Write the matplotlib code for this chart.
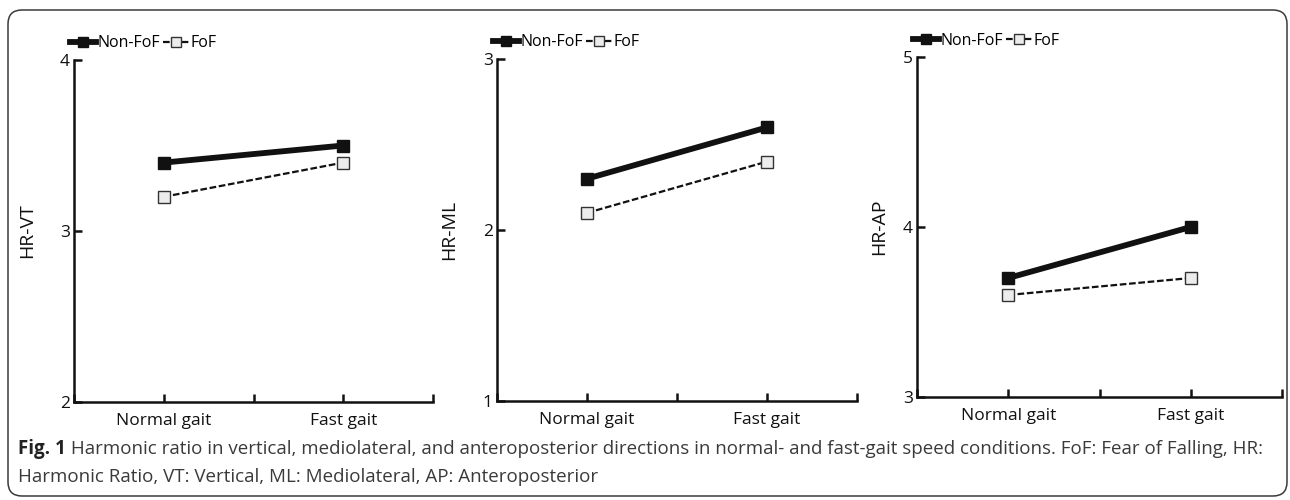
import matplotlib
matplotlib.use('agg')
import matplotlib.pyplot as plt
from matplotlib.patches import FancyBboxPatch

plt.rcParams['font.family'] = ['Open Sans', 'DejaVu Sans']

conditions = ['Normal gait', 'Fast gait']
panel_ylabels = ['HR-VT', 'HR-ML', 'HR-AP']
panel_ylims = [(2, 4), (1, 3), (3, 5)]
panel_yticks = [[2, 3, 4], [1, 2, 3], [3, 4, 5]]
non_fof = [[3.4, 3.5], [2.3, 2.6], [3.7, 4.0]]
fof = [[3.2, 3.4], [2.1, 2.4], [3.6, 3.7]]

caption_bold = 'Fig. 1'
caption_1 = (' Harmonic ratio in vertical, mediolateral, and anteroposterior directions in '
             'normal- and fast-gait speed conditions. FoF: Fear of Falling, HR:')
caption_2 = 'Harmonic Ratio, VT: Vertical, ML: Mediolateral, AP: Anteroposterior'

W, H = 1290, 500
fig = plt.figure(figsize=(W / 100, H / 100), dpi=100)

# frame around everything, drawn in pixel coords
bg = fig.add_axes([0, 0, 1, 1])
bg.set_xlim(0, W)
bg.set_ylim(H, 0)
bg.axis('off')
bg.add_patch(FancyBboxPatch((8, 10), 1279, 486, boxstyle='round,pad=0,rounding_size=14',
                            fill=False, edgecolor='#3a3a3a', linewidth=1.1))

# axes boxes in pixels: left, right, top, bottom
boxes = [(74, 433, 60, 402), (497, 857, 59, 401), (917, 1282, 57, 397)]
ylabel_x = [36, 458, 888]

for i, (l, r, t, b) in enumerate(boxes):
  ax = fig.add_axes([l / W, 1 - b / H, (r - l) / W, (b - t) / H])
  ax.set_facecolor('none')
  xs = [1, 3]
  ax.plot(xs, non_fof[i], color='#111111', linewidth=4.2, marker='s', markersize=8.5,
          markerfacecolor='#111111', markeredgecolor='#111111', label='Non-FoF', clip_on=False)
  ax.plot(xs, fof[i], color='#111111', linewidth=1.6, linestyle=(0, (3, 1.2)), marker='s',
          markersize=8.5, markerfacecolor='#ececec', markeredgecolor='#333333',
          markeredgewidth=1.0, label='FoF', clip_on=False)
  ax.set_xlim(0, 4)
  ax.set_ylim(*panel_ylims[i])
  ax.set_xticks([0, 1, 2, 3, 4])
  ax.set_xticklabels(['', conditions[0], '', conditions[1], ''])
  ax.set_yticks(panel_yticks[i])
  ax.tick_params(axis='both', direction='in', length=6, width=1.8, labelsize=12.5,
                 colors='#111111', pad=4)
  ax.tick_params(axis='x', pad=8)
  ax.tick_params(axis='y', pad=3)
  for s in ['top', 'right']:
    ax.spines[s].set_visible(False)
  for s in ['left', 'bottom']:
    ax.spines[s].set_linewidth(1.8)
    ax.spines[s].set_color('#111111')
  ax.set_ylabel(panel_ylabels[i], fontsize=14, color='#111111')
  ax.yaxis.set_label_coords((ylabel_x[i] - l) / (r - l), 0.5)
  ax.legend(loc='lower left', bbox_to_anchor=(-0.01, 1.025), ncol=2, frameon=False,
            fontsize=11.5, handlelength=1.6, handletextpad=0.1, columnspacing=0.2,
            borderaxespad=0, borderpad=0, markerscale=0.8)

t1 = fig.text(18 / W, 1 - 449 / H, caption_bold, fontsize=13.5, fontweight='bold',
              color='#222222', va='center', ha='left')
fig.canvas.draw()
bb = t1.get_window_extent()
fig.text(bb.x1 / W, 1 - 449 / H, caption_1, fontsize=13.5, color='#3a3a3a',
         va='center', ha='left')
fig.text(18 / W, 1 - 477 / H, caption_2, fontsize=13.5, color='#3a3a3a',
         va='center', ha='left')

fig.savefig('out.png', dpi=100)
